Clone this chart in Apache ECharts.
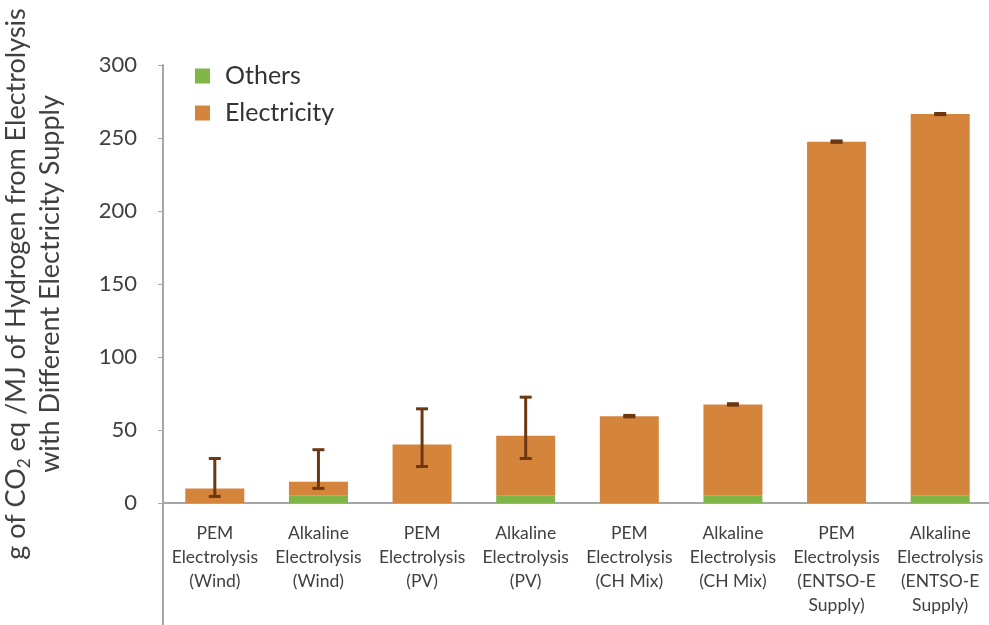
<!DOCTYPE html>
<html>
<head>
<meta charset="utf-8">
<script src="https://cdn.jsdelivr.net/npm/echarts@6/dist/echarts.min.js"></script>
<style>
  html, body { margin: 0; padding: 0; background: #fff; }
  #chart { width: 989px; height: 625px; }
</style>
</head>
<body>
<div id="chart"></div>
<script>
  var categories = [
    'PEM\nElectrolysis\n(Wind)', 'Alkaline\nElectrolysis\n(Wind)',
    'PEM\nElectrolysis\n(PV)', 'Alkaline\nElectrolysis\n(PV)',
    'PEM\nElectrolysis\n(CH Mix)', 'Alkaline\nElectrolysis\n(CH Mix)',
    'PEM\nElectrolysis\n(ENTSO-E\nSupply)', 'Alkaline\nElectrolysis\n(ENTSO-E\nSupply)'
  ];
  var others = [0, 5, 0, 5, 0, 5, 0, 5];
  var electricity = [10, 9.5, 40, 41, 59.5, 62.5, 247.5, 261.5];
  var errLow = [4.5, 10, 25, 30.5, 59, 67, 247, 266];
  var errHigh = [30.5, 36.5, 64.5, 72.5, 60, 68, 248, 266.8];

  var errData = categories.map(function (c, i) { return [i, errLow[i], errHigh[i]]; });

  var chart = echarts.init(document.getElementById('chart'));
  var option = {
    animation: false,
    textStyle: { fontFamily: 'Lato' },
    grid: { left: 163, top: 65, bottom: 122, width: 829, outerBoundsMode: 'none', containLabel: false },
    legend: {
      orient: 'vertical',
      left: 190, top: 56,
      itemWidth: 15, itemHeight: 15, itemGap: 7,
      icon: 'rect',
      textStyle: { fontSize: 25, color: '#333', fontFamily: 'Lato', lineHeight: 30, padding: [0, 0, 0, 10] },
      data: ['Others', 'Electricity']
    },
    xAxis: {
      type: 'category',
      data: categories,
      axisLine: { lineStyle: { color: '#a6a6a6', width: 2 } },
      axisTick: { show: false },
      axisLabel: { fontSize: 17.5, color: '#404040', lineHeight: 24, margin: 18, interval: 0 }
    },
    yAxis: {
      type: 'value',
      min: 0, max: 300, interval: 50,
      name: 'g of CO{sub|2} eq /MJ of Hydrogen from Electrolysis\nwith Different Electricity Supply',
      nameLocation: 'middle',
      nameGap: 96,
      nameTextStyle: {
        fontSize: 27, color: '#404040', lineHeight: 34, fontFamily: 'Lato',
        rich: { sub: { fontSize: 17, verticalAlign: 'bottom', padding: [10, 0, 0, 0], color: '#404040' } }
      },
      splitLine: { show: false },
      axisLine: { show: true, lineStyle: { color: '#a6a6a6', width: 2 } },
      axisTick: { show: true, length: 5, lineStyle: { color: '#a6a6a6' } },
      axisLabel: { fontSize: 22, color: '#404040', margin: 26 }
    },
    graphic: [{
      type: 'line',
      shape: { x1: 163, y1: 503, x2: 163, y2: 625 },
      style: { stroke: '#a6a6a6', lineWidth: 2 }
    }],
    series: [
      {
        name: 'Others', type: 'bar', stack: 'total', barWidth: 59,
        itemStyle: { color: '#80b548' },
        data: others
      },
      {
        name: 'Electricity', type: 'bar', stack: 'total', barWidth: 59,
        itemStyle: { color: '#d5843c' },
        data: electricity
      },
      {
        type: 'custom',
        name: 'err',
        z: 10,
        data: errData,
        renderItem: function (params, api) {
          var x = api.value(0);
          var lo = api.coord([x, api.value(1)]);
          var hi = api.coord([x, api.value(2)]);
          var half = 6;
          var st = { stroke: '#6b3812', lineWidth: 3 };
          return {
            type: 'group',
            children: [
              { type: 'line', shape: { x1: lo[0], y1: lo[1], x2: hi[0], y2: hi[1] }, style: st },
              { type: 'line', shape: { x1: lo[0] - half, y1: lo[1], x2: lo[0] + half, y2: lo[1] }, style: st },
              { type: 'line', shape: { x1: hi[0] - half, y1: hi[1], x2: hi[0] + half, y2: hi[1] }, style: st }
            ]
          };
        }
      }
    ]
  };
  chart.setOption(option);
</script>
</body>
</html>
